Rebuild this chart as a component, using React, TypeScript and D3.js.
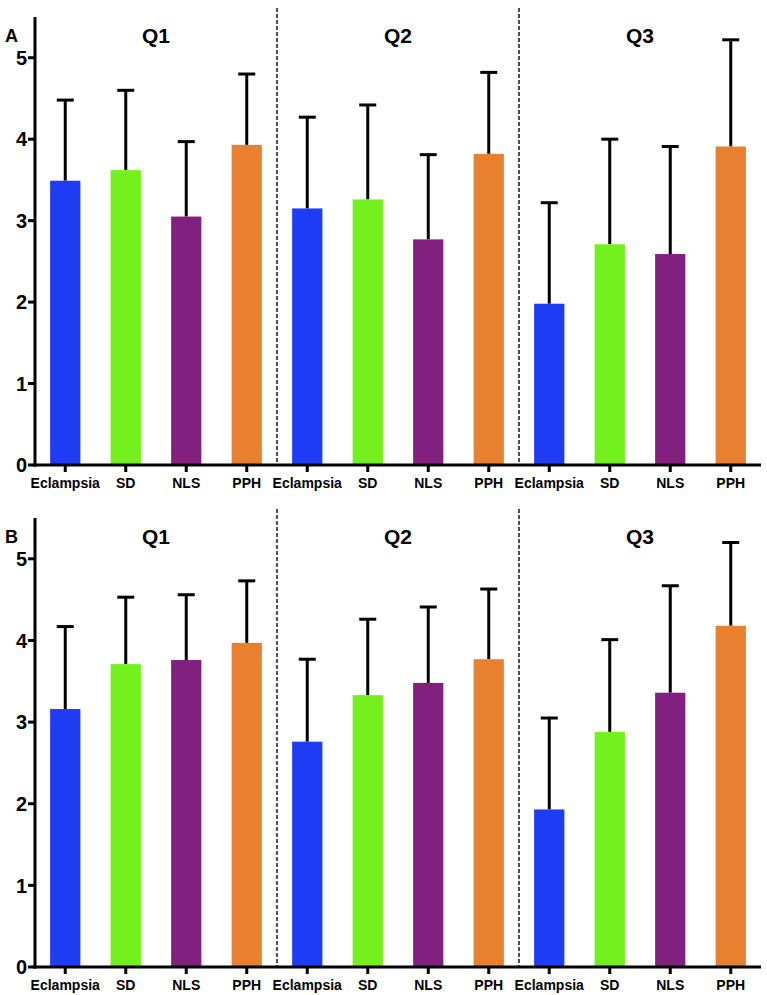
import * as d3 from 'd3';

const categories = ['Eclampsia', 'SD', 'NLS', 'PPH'];
const questions = ['Q1', 'Q2', 'Q3'];
const yTicks = [0, 1, 2, 3, 4, 5];
const colors = ['#1f3cf5', '#74f01c', '#82207f', '#e8802f'];

// panel A: mean and SD per question (Q1, Q2, Q3), in category order
const meansA = [
  [3.49, 3.62, 3.05, 3.93],
  [3.15, 3.26, 2.77, 3.82],
  [1.98, 2.71, 2.59, 3.91],
];
const sdA = [
  [0.99, 0.98, 0.92, 0.87],
  [1.12, 1.16, 1.04, 1.0],
  [1.24, 1.29, 1.32, 1.31],
];

// panel B
const meansB = [
  [3.16, 3.71, 3.76, 3.97],
  [2.76, 3.33, 3.48, 3.77],
  [1.93, 2.88, 3.36, 4.18],
];
const sdB = [
  [1.01, 0.82, 0.8, 0.76],
  [1.01, 0.93, 0.93, 0.86],
  [1.12, 1.13, 1.31, 1.02],
];

const W = 767;
const H = 995;
const FONT = 'Liberation Sans, Arial, sans-serif';

type PanelProps = {
  label: string;
  top: number;
  base: number;
  means: number[][];
  sds: number[][];
};

const Panel = ({ label, top, base, means, sds }: PanelProps) => {
  const slots = questions.flatMap(q => categories.map(c => `${q}-${c}`));
  const x = d3.scaleBand().domain(slots).range([35, 761]).padding(0.5).paddingOuter(0.25);
  const y = d3.scaleLinear().domain([0, 5.5]).range([base, top]);
  const step = x.step();
  const x0 = 35;

  return (
    <g>
      <text x={5} y={top + 25} fontFamily={FONT} fontWeight="bold" fontSize={18}>{label}</text>

      {/* dashed separators between questions */}
      {[1, 2].map(i => (
        <line key={i} x1={x0 + step * 4 * i} x2={x0 + step * 4 * i} y1={top - 9} y2={base}
          stroke="#222" strokeWidth={1.6} strokeDasharray="4,2" />
      ))}

      {questions.map((q, qi) => {
        const cx = x0 + step * (4 * qi + 2);
        return (
          <text key={q} x={cx} y={top + 26} textAnchor="middle" fontFamily={FONT}
            fontWeight="bold" fontSize={21}>{q}</text>
        );
      })}

      {questions.map((q, qi) => categories.map((c, ci) => {
        const key = `${q}-${c}`;
        const m = means[qi][ci];
        const s = sds[qi][ci];
        const bx = x(key)!;
        const bw = x.bandwidth();
        const cx = bx + bw / 2;
        return (
          <g key={key}>
            <line x1={cx} x2={cx} y1={y(m)} y2={y(m + s)} stroke="#000" strokeWidth={3} />
            <line x1={cx - 8.5} x2={cx + 8.5} y1={y(m + s)} y2={y(m + s)} stroke="#000" strokeWidth={3} />
            <rect x={bx} y={y(m)} width={bw} height={y(0) - y(m)} fill={colors[ci]} />
            <line x1={cx} x2={cx} y1={base} y2={base + 7} stroke="#000" strokeWidth={3} />
            <text x={cx} y={base + 23} textAnchor="middle" fontFamily={FONT}
              fontWeight="bold" fontSize={14}>{c}</text>
          </g>
        );
      }))}

      {/* axes */}
      <line x1={x0} x2={x0} y1={top} y2={base + 1.5} stroke="#000" strokeWidth={3} />
      <line x1={x0 - 1.5} x2={761} y1={base} y2={base} stroke="#000" strokeWidth={3} />
      {yTicks.map(t => (
        <g key={t}>
          <line x1={x0 - 7} x2={x0} y1={y(t)} y2={y(t)} stroke="#000" strokeWidth={3} />
          <text x={x0 - 8} y={y(t)} dy="0.36em" textAnchor="end" fontFamily={FONT}
            fontWeight="bold" fontSize={20}>{t}</text>
        </g>
      ))}
    </g>
  );
};

export default function App() {
  return (
    <svg width={W} height={H} style={{ position: 'absolute', left: 0, top: 0, background: '#fff' }}>
      <Panel label="A" top={17} base={465} means={meansA} sds={sdA} />
      <Panel label="B" top={518} base={967} means={meansB} sds={sdB} />
    </svg>
  );
}
